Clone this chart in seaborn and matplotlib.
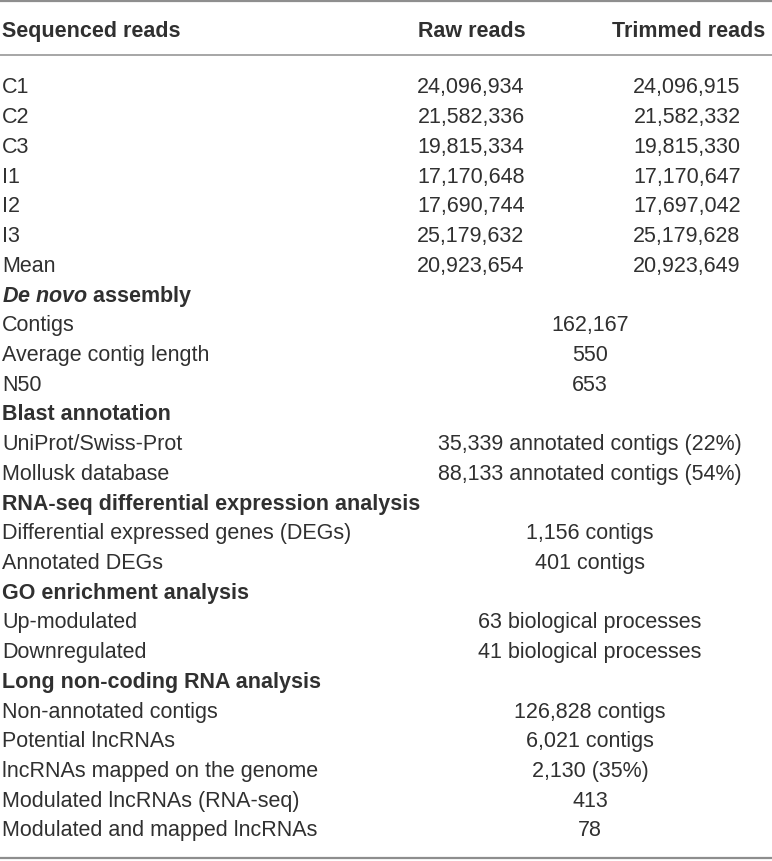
import matplotlib
matplotlib.use('Agg')
import matplotlib.pyplot as plt
import seaborn as sns

# ---- table content ----
header_labels = ['Sequenced reads', 'Raw reads', 'Trimmed reads']

sample_ids = ['C1', 'C2', 'C3', 'I1', 'I2', 'I3', 'Mean']
raw_reads = [24096934, 21582336, 19815334, 17170648, 17690744, 25179632, 20923654]
trimmed_reads = [24096915, 21582332, 19815330, 17170647, 17697042, 25179628, 20923649]

assembly_labels = ['Contigs', 'Average contig length', 'N50']
assembly_values = ['162,167', '550', '653']

blast_labels = ['UniProt/Swiss-Prot', 'Mollusk database']
blast_values = ['35,339 annotated contigs (22%)', '88,133 annotated contigs (54%)']

deg_labels = ['Differential expressed genes (DEGs)', 'Annotated DEGs']
deg_values = ['1,156 contigs', '401 contigs']

go_labels = ['Up-modulated', 'Downregulated']
go_values = ['63 biological processes', '41 biological processes']

lnc_labels = ['Non-annotated contigs', 'Potential lncRNAs', 'lncRNAs mapped on the genome',
              'Modulated lncRNAs (RNA-seq)', 'Modulated and mapped lncRNAs']
lnc_values = ['126,828 contigs', '6,021 contigs', '2,130 (35%)', '413', '78']

sections = [
    (r'$\mathbfit{De\ novo}$ assembly', assembly_labels, assembly_values),
    ('Blast annotation', blast_labels, blast_values),
    ('RNA-seq differential expression analysis', deg_labels, deg_values),
    ('GO enrichment analysis', go_labels, go_values),
    ('Long non-coding RNA analysis', lnc_labels, lnc_values),
]

# ---- layout ----
sns.set_theme(style='white')
plt.rcParams['font.family'] = ['Liberation Sans', 'DejaVu Sans']
plt.rcParams['mathtext.fontset'] = 'custom'
plt.rcParams['mathtext.rm'] = 'Liberation Sans'
plt.rcParams['mathtext.it'] = 'Liberation Sans:italic'
plt.rcParams['mathtext.bf'] = 'Liberation Sans:bold'
plt.rcParams['mathtext.bfit'] = 'Liberation Sans:bold:italic'

TXT = '#303030'
RULE = '#8e8e8e'
FS = 15.5
x_label, x_raw, x_trim, x_span = 2, 471, 687, 590

fig = plt.figure(figsize=(7.72, 8.61), dpi=100)
ax = fig.add_axes([0, 0, 1, 1])
ax.set_xlim(0, 772)
ax.set_ylim(26.01, -2.96)
ax.axis('off')

# header
ax.text(x_label, -1.91, header_labels[0], fontsize=FS, fontweight='bold', color=TXT,
        ha='left', va='center')
ax.text(x_raw + 55, -1.91, header_labels[1], fontsize=FS, fontweight='bold', color=TXT,
        ha='right', va='center')
ax.text(765, -1.91, header_labels[2], fontsize=FS, fontweight='bold', color=TXT,
        ha='right', va='center')

ax.axhline(-2.93, color=RULE, lw=1.6)
ax.axhline(-1.11, color=RULE, lw=1.1)

row = 0
for sid, raw, trim in zip(sample_ids, raw_reads, trimmed_reads):
    ax.text(x_label, row, sid, fontsize=FS, color=TXT, ha='left', va='center')
    ax.text(x_raw, row, f'{raw:,}', fontsize=FS, color=TXT, ha='center', va='center')
    ax.text(x_trim, row, f'{trim:,}', fontsize=FS, color=TXT, ha='center', va='center')
    row += 1

for title, labels, values in sections:
    ax.text(x_label, row, title, fontsize=FS, fontweight='bold', color=TXT,
            ha='left', va='center')
    row += 1
    for lab, val in zip(labels, values):
        ax.text(x_label, row, lab, fontsize=FS, color=TXT, ha='left', va='center')
        ax.text(x_span, row, val, fontsize=FS, color=TXT, ha='center', va='center')
        row += 1

ax.axhline(row - 1 + 0.91, color=RULE, lw=1.6)

fig.savefig('out.png', dpi=100)
